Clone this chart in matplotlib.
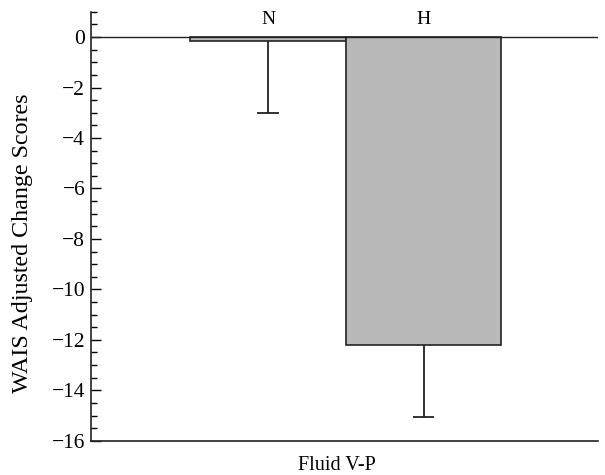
import numpy as np
import matplotlib
matplotlib.use("Agg")
import matplotlib.pyplot as plt
import matplotlib.ticker as mtick

plt.rcParams.update({
    "font.family": ["Liberation Serif", "DejaVu Serif"],
    "font.size": 14,
    "axes.unicode_minus": True,
})

# Dados
groups     = ["N", "H"]
means      = [-0.15, -12.2]
lower_err  = [2.85, 2.85]
bar_colors = ["#bdbdbd", "#b9b9b9"]

fig = plt.figure(figsize=(6.05, 4.75), dpi=100)
ax = fig.add_axes([0.150, 0.072, 0.838, 0.903])

x = np.arange(len(groups))
ax.bar(x, means, width=1.0, color=bar_colors, edgecolor="#222222", linewidth=1.2, zorder=2)

# barras de erro só para baixo
means_arr = np.array(means)
err_arr = np.array(lower_err)
cap = 0.07
ax.vlines(x, means_arr, means_arr - err_arr, color="#222222", linewidth=1.3, zorder=3)
ax.hlines(means_arr - err_arr, x - cap, x + cap, color="#222222", linewidth=1.3, zorder=3)
ax.axhline(0, color="#222222", linewidth=1.0, zorder=4)

for xi, g in zip(x, groups):
    ax.text(xi, 0.35, g, ha="center", va="bottom", fontsize=14)

ax.set_xlim(-1.14, 2.12)
ax.set_ylim(-16, 1)
ax.yaxis.set_major_locator(mtick.MultipleLocator(2))
ax.yaxis.set_minor_locator(mtick.MultipleLocator(0.5))
ax.set_xticks([])
ax.tick_params(axis="y", which="major", direction="in", length=7, width=1.0, labelsize=15.5, pad=4)
ax.tick_params(axis="y", which="minor", direction="in", length=4, width=1.0)

for side in ["top", "right"]:
    ax.spines[side].set_visible(False)
for side in ["left", "bottom"]:
    ax.spines[side].set_linewidth(1.2)
    ax.spines[side].set_color("#222222")

ax.set_ylabel("WAIS Adjusted Change Scores", fontsize=17.3)
ax.yaxis.set_label_coords(-0.114, 0.46)
ax.set_xlabel("Fluid V-P", fontsize=14.5)
ax.xaxis.set_label_coords(0.485, -0.035)

plt.savefig("out.png", dpi=100)
